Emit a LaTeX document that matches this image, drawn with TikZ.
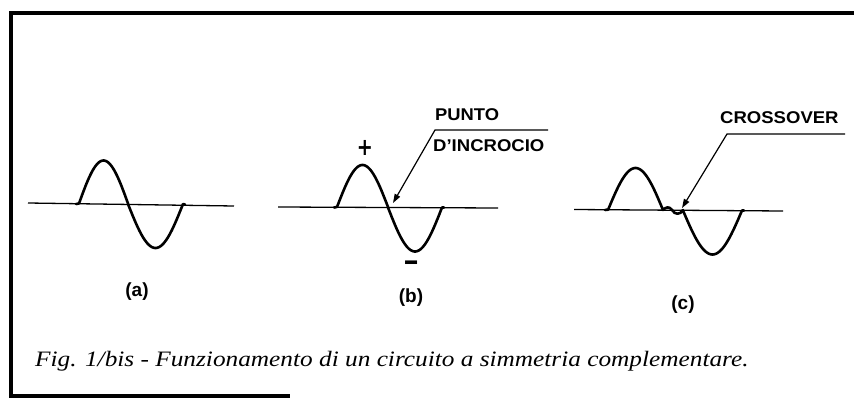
\documentclass[tikz,border=0pt]{standalone}
\usepackage{fontspec}
\setmainfont{Liberation Serif}
\newfontfamily\labelfont{Liberation Sans}
\newfontfamily\signfont{DejaVu Sans}
\usetikzlibrary{arrows.meta}
\begin{document}
\begin{tikzpicture}[x=1pt,y=-1pt,
  frame/.style={line width=3.6pt},
  axisline/.style={line width=1.3pt},
  wave/.style={line width=2.6pt, line join=round, line cap=round},
  leader/.style={line width=1.2pt},
  lbl/.style={font=\labelfont\bfseries\fontsize{17}{19}\selectfont, inner sep=0pt},
  plbl/.style={font=\labelfont\bfseries\fontsize{19}{21}\selectfont, inner sep=0pt},
  sign/.style={font=\signfont\bfseries\fontsize{24}{26}\selectfont, inner sep=0pt},
  caption/.style={font=\itshape\fontsize{22}{25}\selectfont, inner sep=0pt},
  tip/.style={-{Triangle[length=9pt,width=6pt]}}]
\useasboundingbox (0,0) rectangle (854,401);
% frame
\draw[frame] (854,13) -- (11,13) -- (11,396) -- (290,396);
% panel (a)
\draw[axisline] (28,203) -- (234,206);
\draw[wave] (76,204) -- (79,203.5) plot[domain=0:1,samples=40,smooth] ({79+49*\x},{203.5-43*sin(180*\x)})
  -- plot[domain=0:1,samples=40,smooth] ({128+55*\x},{204-44*sin(-180*\x)}) -- (185,204.5);
% panel (b)
\draw[axisline] (278,207) -- (498,208);
\draw[wave] (334,207.5) -- (337,207) plot[domain=0:1,samples=40,smooth] ({337+51*\x},{207-42*sin(180*\x)})
  -- plot[domain=0:1,samples=40,smooth] ({388+54*\x},{207.5+44*sin(180*\x)}) -- (444,207.5);
% panel (c)
\draw[axisline] (574,209.5) -- (783,211);
\draw[wave] (605,210) -- (608,209.5) plot[domain=0:1,samples=40,smooth] ({608+55*\x},{210-42*sin(180*\x)})
  .. controls (666,207) and (669,206) .. (672,210) .. controls (675,215) and (680,215) .. (683,210)
  -- plot[domain=0:1,samples=40,smooth] ({683+59*\x},{210.5+44*sin(180*\x)}) -- (744,210.5);
% labels
\node[plbl] (pa) at (137,292) {(a)};
\node[plbl] (pb) at (411,298) {(b)};
\node[plbl] (pc) at (683,305) {(c)};
\node[sign] (plus) at (365,148) {\scalebox{0.8}[1]{+}};
\node[sign] (minus) at (412,267) {\scalebox{0.8}[1.3]{−}};
\node[lbl, anchor=west] (punto) at (435,115) {\scalebox{1.08}[1]{PUNTO}};
\node[lbl, anchor=west] (incr) at (433,146) {\scalebox{1.09}[1]{D’INCROCIO}};
\node[lbl, anchor=west] (cross) at (720,118) {\scalebox{1.09}[1]{CROSSOVER}};
% leaders
\coordinate (eb) at (548,130);
\coordinate (kb) at (435,130);
\coordinate (tb) at (393,203);
\draw[leader, tip] (eb) -- (kb) -- (tb);
\coordinate (ec) at (845,134);
\coordinate (kc) at (727,134);
\coordinate (tc) at (682,208);
\draw[leader, tip] (ec) -- (kc) -- (tc);
% caption
\node[caption, anchor=west] (cap) at (35,361) {\scalebox{1.15}[1]{Fig. 1/bis - Funzionamento di un circuito a simmetria complementare.}};
\end{tikzpicture}
\end{document}
